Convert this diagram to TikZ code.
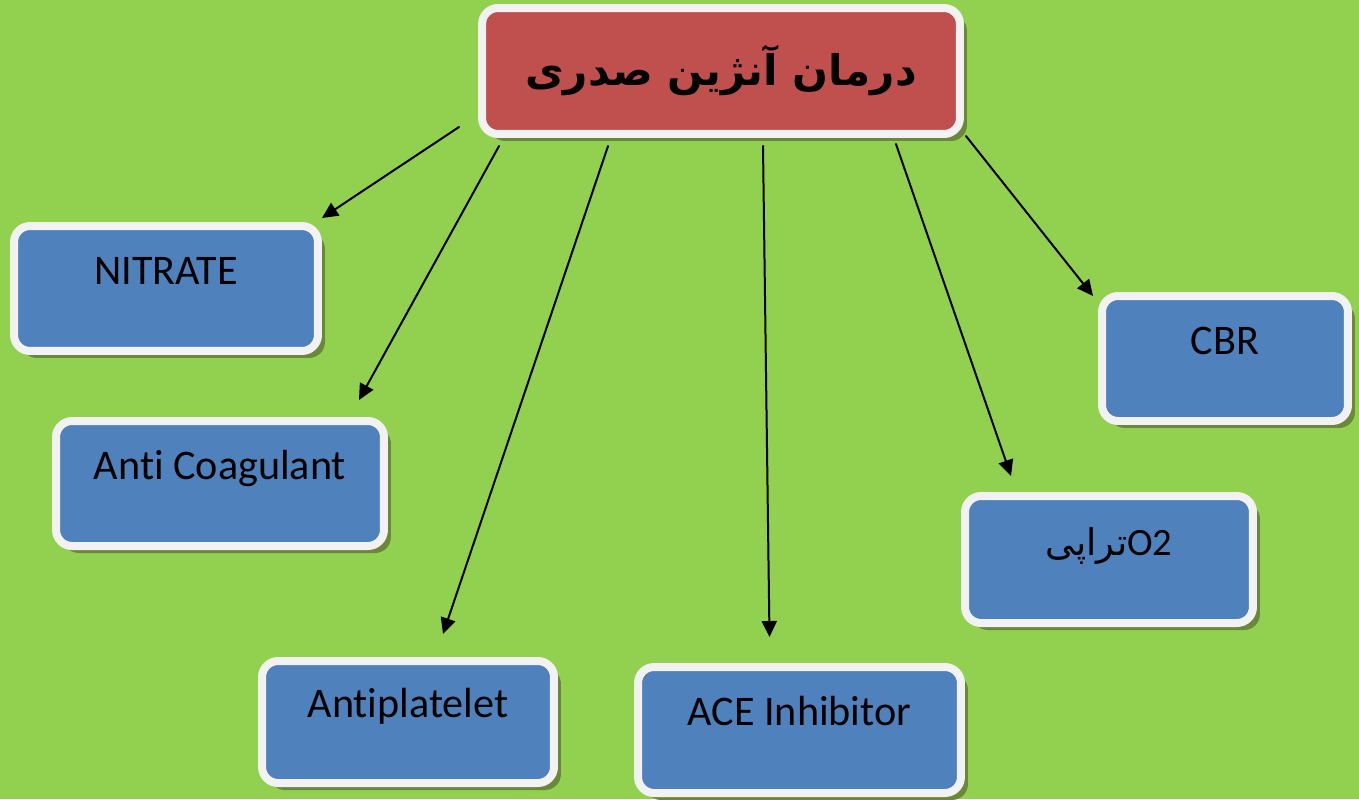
\documentclass[tikz,border=0pt]{standalone}
\usepackage{fontspec}
\setmainfont[Ligatures={NoCommon}]{Carlito}
\newfontfamily\arabicfont[Script=Arabic]{DejaVu Sans}
\TeXXeTstate=1
\usetikzlibrary{arrows.meta,shadows}
\definecolor{bggreen}{RGB}{146,208,80}
\definecolor{boxred}{RGB}{192,80,77}
\definecolor{boxblue}{RGB}{79,129,189}
\definecolor{boxrim}{RGB}{242,242,242}
\definecolor{shadowgreen}{RGB}{106,135,58}

\begin{document}
\begin{tikzpicture}[line cap=round,line join=round,>={Triangle[length=0.32cm,width=0.3cm]},x=0.02cm,y=-0.02cm,
    box/.style={rectangle,rounded corners=0.32cm,draw=boxrim,line width=0.16cm,inner sep=0pt,
      drop shadow={shadow xshift=0.14cm,shadow yshift=-0.14cm,fill=shadowgreen,opacity=1}},
    bluebox/.style={box,fill=boxblue,font=\fontsize{24}{29}\selectfont,text height=0.54cm,text depth=0.72cm},
    arr/.style={->,line width=0.04cm}]
            \useasboundingbox (0,0) rectangle (1359,799);
            \fill [bggreen] (0,0) rectangle (1359,799);

            \node [box,fill=boxred,minimum width=9.56cm,minimum height=2.52cm,font=\arabicfont\bfseries\fontsize{24}{29}\selectfont] (top) at (721,71) {\beginR درمان آنژین صدری\endR};

            \node [bluebox,minimum width=6.08cm,minimum height=2.5cm] (nitrate) at (166,288.5) {NITRATE};
            \node [bluebox,minimum width=6.56cm,minimum height=2.5cm] (anti) at (220,483.5) {Anti Coagulant};
            \node [bluebox,minimum width=5.84cm,minimum height=2.44cm] (platelet) at (408,722) {Antiplatelet};
            \node [bluebox,minimum width=6.46cm,minimum height=2.52cm] (ace) at (799.5,730) {ACE Inhibitor};
            \node [bluebox,minimum width=5.76cm,minimum height=2.54cm,font=\fontsize{22}{26}\selectfont] (oxygen) at (1109,559.5) {\beginR\beginL O2\endL{\arabicfont\fontsize{21}{26}\selectfont تراپی}\endR};
            \node [bluebox,minimum width=4.92cm,minimum height=2.5cm] (cbr) at (1225,358.5) {CBR};

            \draw [arr] ([shift={(-19,-11)}]top.south west) -- ([shift={(0,-4)}]nitrate.north east);
            \draw [arr] ([shift={(21,8)}]top.south west) -- ([shift={(-29,-17)}]anti.north east);
            \draw [arr] ([shift={(130,8)}]top.south west) -- ([shift={(35,-23)}]platelet.north);
            \draw [arr] ([shift={(42,8)}]top.south) -- ([shift={(-30,-26)}]ace.north);
            \draw [arr] ([shift={(-68,6)}]top.south east) -- ([shift={(50,-16)}]oxygen.north west);
            \draw [arr] ([shift={(2,-2)}]top.south east) -- ([shift={(-5,4)}]cbr.north west);
\end{tikzpicture}
\end{document}
